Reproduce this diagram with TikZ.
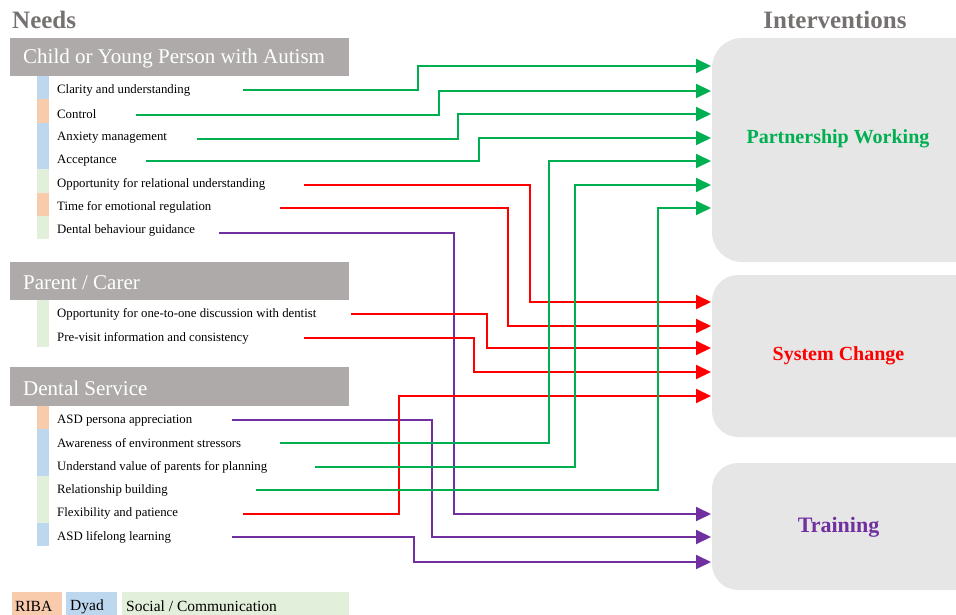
\documentclass[tikz,border=0pt]{standalone}
\usepackage{fontspec}
\setmainfont{Liberation Serif}
\usetikzlibrary{arrows.meta}
\definecolor{hdr}{HTML}{AEAAAA}
\definecolor{ribac}{HTML}{F8CBAD}
\definecolor{dyadc}{HTML}{BDD7EE}
\definecolor{socc}{HTML}{E2EFDA}
\definecolor{boxc}{HTML}{E6E6E6}
\definecolor{gr}{HTML}{00B050}
\definecolor{rd}{HTML}{FF0000}
\definecolor{pu}{HTML}{7030A0}
\definecolor{titlec}{HTML}{767171}
\begin{document}
\begin{tikzpicture}[x=1pt,y=-1pt,
  item/.style={anchor=west, inner sep=0pt, font=\fontsize{12.8}{14}\selectfont},
  hdrtext/.style={anchor=west, inner sep=0pt, text=white, font=\fontsize{21}{24}\selectfont},
  title/.style={inner sep=0pt, text=titlec, font=\fontsize{25}{28}\selectfont\bfseries},
  ilabel/.style={inner sep=0pt, font=\fontsize{20}{24}\selectfont\bfseries},
  legtext/.style={anchor=west, inner sep=0pt, font=\fontsize{15.5}{18}\selectfont},
  conn/.style={line width=2pt, -{Triangle[length=15pt,width=14pt]}},
  gline/.style={conn, draw=gr},
  rline/.style={conn, draw=rd},
  pline/.style={conn, draw=pu}]
\useasboundingbox (0,0) rectangle (956,615);
\clip (0,0) rectangle (956,615);

% titles
\node[title, anchor=west] (needs) at (12,20) {Needs};
\node[title] (interv) at (835,19.5) {Interventions};

% header bars
\fill[hdr] (10,38) rectangle (349,76);
\node[hdrtext] (hchild) at (23,58.5) {Child or Young Person with Autism};
\fill[hdr] (10,262) rectangle (349,300);
\node[hdrtext] (hparent) at (23,282.5) {Parent / Carer};
\fill[hdr] (10,367) rectangle (349,406);
\node[hdrtext] (hdental) at (23,388) {Dental Service};

% colour strips
\fill[dyadc] (37,76) rectangle (49,99);
\fill[ribac] (37,99) rectangle (49,123);
\fill[dyadc] (37,123) rectangle (49,169);
\fill[socc] (37,169) rectangle (49,193);
\fill[ribac] (37,193) rectangle (49,216);
\fill[socc] (37,216) rectangle (49,239);
\fill[socc] (37,300) rectangle (49,347);
\fill[ribac] (37,406) rectangle (49,429);
\fill[dyadc] (37,429) rectangle (49,476);
\fill[socc] (37,476) rectangle (49,523);
\fill[dyadc] (37,523) rectangle (49,546);

% items
\node[item] (c1) at (57,90.5) {Clarity and understanding};
\node[item] (c2) at (57,114.5) {Control};
\node[item] (c3) at (57,137.5) {Anxiety management};
\node[item] (c4) at (57,160.5) {Acceptance};
\node[item] (c5) at (57,184.5) {Opportunity for relational understanding};
\node[item] (c6) at (57,207.5) {Time for emotional regulation};
\node[item] (c7) at (57,230.5) {Dental behaviour guidance};
\node[item] (p1) at (57,314.5) {Opportunity for one-to-one discussion with dentist};
\node[item] (p2) at (57,338.5) {Pre-visit information and consistency};
\node[item] (d1) at (57,420.5) {ASD persona appreciation};
\node[item] (d2) at (57,443.5) {Awareness of environment stressors};
\node[item] (d3) at (57,467.5) {Understand value of parents for planning};
\node[item] (d4) at (57,490.5) {Relationship building};
\node[item] (d5) at (57,513.5) {Flexibility and patience};
\node[item] (d6) at (57,537.5) {ASD lifelong learning};

% intervention boxes
\fill[boxc, rounded corners=30pt] (712,38) rectangle (1000,262);
\node[ilabel, text=gr] (pw) at (838,138.5) {Partnership Working};
\fill[boxc, rounded corners=26pt] (712,275) rectangle (1000,437);
\node[ilabel, text=rd] (sc) at (838.5,355.5) {System Change};
\fill[boxc, rounded corners=26pt] (712,463) rectangle (1000,590);
\node[ilabel, text=pu, font=\fontsize{22}{26}\selectfont\bfseries] (tr) at (838.5,527.5) {Training};

% legend
\fill[ribac] (12,592) rectangle (62,620);
\node[legtext] (lriba) at (15,606.5) {RIBA};
\fill[dyadc] (66,592) rectangle (117,620);
\node[legtext] (ldyad) at (70,606.5) {Dyad};
\fill[socc] (122,592) rectangle (349,620);
\node[legtext] (lsoc) at (126,606.5) {Social / Communication};

% connector start points
\coordinate (gs1) at (243,90);
\coordinate (gs2) at (136,115);
\coordinate (gs3) at (197,139);
\coordinate (gs4) at (146,161);
\coordinate (gs5) at (280,443);
\coordinate (gs6) at (315,467);
\coordinate (gs7) at (256,490);
\coordinate (rs1) at (304,185);
\coordinate (rs2) at (280,208);
\coordinate (rs3) at (351,314);
\coordinate (rs4) at (304,338);
\coordinate (rs5) at (243,514);
\coordinate (ps1) at (219,233);
\coordinate (ps2) at (232,420);
\coordinate (ps3) at (232,537);

% connector end points
\coordinate (pw1) at (711,66);
\coordinate (pw2) at (711,91);
\coordinate (pw3) at (711,114);
\coordinate (pw4) at (711,138);
\coordinate (pw5) at (711,161);
\coordinate (pw6) at (711,185);
\coordinate (pw7) at (711,208);
\coordinate (sc1) at (711,302);
\coordinate (sc2) at (711,326);
\coordinate (sc3) at (711,348);
\coordinate (sc4) at (711,372);
\coordinate (sc5) at (711,396);
\coordinate (tr1) at (711,514);
\coordinate (tr2) at (711,537);
\coordinate (tr3) at (711,562);

% purple
\draw[pline] (ps1) -- (454,233) |- (tr1);
\draw[pline] (ps2) -- (432,420) |- (tr2);
\draw[pline] (ps3) -- (414,537) |- (tr3);
% red
\draw[rline] (rs1) -- (530,185) |- (sc1);
\draw[rline] (rs2) -- (508,208) |- (sc2);
\draw[rline] (rs3) -- (487,314) |- (sc3);
\draw[rline] (rs4) -- (474,338) |- (sc4);
\draw[rline] (rs5) -- (399,514) |- (sc5);
% green
\draw[gline] (gs1) -- (418,90) |- (pw1);
\draw[gline] (gs2) -- (439,115) |- (pw2);
\draw[gline] (gs3) -- (458,139) |- (pw3);
\draw[gline] (gs4) -- (479,161) |- (pw4);
\draw[gline] (gs5) -- (549,443) |- (pw5);
\draw[gline] (gs6) -- (575,467) |- (pw6);
\draw[gline] (gs7) -- (658,490) |- (pw7);
\end{tikzpicture}
\end{document}
